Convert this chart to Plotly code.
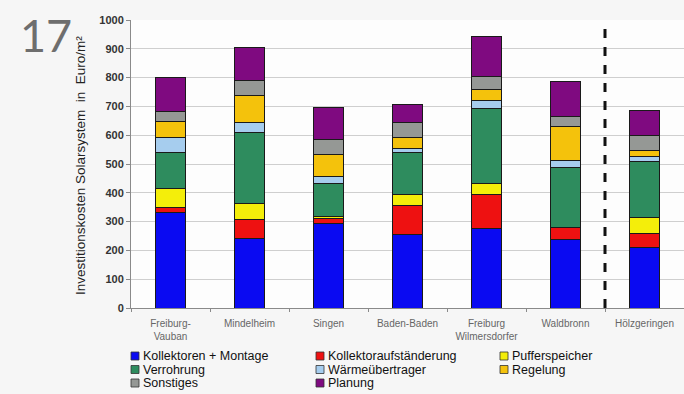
import plotly.graph_objects as go

# Standorte (Kategorien der x-Achse)
standorte = [
    "Freiburg-<br>Vauban",
    "Mindelheim",
    "Singen",
    "Baden-Baden",
    "Freiburg<br>Wilmersdorfer",
    "Waldbronn",
    "Hölzgeringen",
]

# Kostenanteile in Euro/m², von unten nach oben gestapelt
kollektoren_montage = [331, 240, 294, 254, 275, 237, 210]
kollektoraufstaenderung = [18, 66, 18, 102, 118, 44, 50]
pufferspeicher = [67, 58, 4, 39, 38, 0, 55]
verrohrung = [123, 245, 117, 144, 262, 207, 195]
waermeuebertrager = [53, 35, 23, 15, 28, 24, 15]
regelung = [57, 93, 77, 38, 38, 117, 21]
sonstiges = [32, 52, 52, 51, 44, 35, 54]
planung = [119, 116, 110, 65, 141, 121, 85]

serien_namen = [
    "Kollektoren + Montage",
    "Kollektoraufständerung",
    "Pufferspeicher",
    "Verrohrung",
    "Wärmeübertrager",
    "Regelung",
    "Sonstiges",
    "Planung",
]
serien_werte = [
    kollektoren_montage,
    kollektoraufstaenderung,
    pufferspeicher,
    verrohrung,
    waermeuebertrager,
    regelung,
    sonstiges,
    planung,
]
farben = [
    "#0a0af2",
    "#ee1111",
    "#f4ee0a",
    "#2e8c5e",
    "#a6cdee",
    "#f4c20c",
    "#959895",
    "#7f0a80",
]

y_ticks = list(range(0, 1001, 100))

fig = go.Figure()
for name, vals, col in zip(serien_namen, serien_werte, farben):
    fig.add_trace(
        go.Bar(
            x=standorte,
            y=vals,
            name=name,
            marker=dict(color=col, line=dict(color="#1a1a1a", width=1)),
            showlegend=False,
        )
    )

# Plot-Bereich in Pixeln
L, R, T, B = 131, 0, 20, 86
W, H = 684, 394
pw, ph = W - L - R, H - T - B


def px_x(px):
    return (px - L) / pw


def px_y(py):
    return (H - B - py) / ph


annotations = [
    dict(
        text="17", xref="paper", yref="paper",
        x=px_x(18), y=px_y(35), xanchor="left", yanchor="middle",
        showarrow=False,
        font=dict(family="Lato, Arial, sans-serif", size=45, color="#6e6e6e"),
    ),
    dict(
        text="Investitionskosten Solarsystem  in  Euro/m²",
        xref="paper", yref="paper", x=px_x(80), y=px_y(166),
        xanchor="center", yanchor="middle", textangle=-90, showarrow=False,
        font=dict(family="Arial, Liberation Sans, sans-serif", size=13.5, color="#222"),
    ),
]
shapes = [
    # Trennlinie vor dem letzten Standort
    dict(
        type="line", xref="x", yref="paper", x0=5.5, x1=5.5, y0=0, y1=1,
        line=dict(color="#111", width=3, dash="dash"),
    )
]

# Legende in drei Spalten
spalten_x = [131, 316, 500]
zeilen_y = [356, 369.5, 383]
for i, (name, col) in enumerate(zip(serien_namen, farben)):
    cx = spalten_x[i % 3]
    cy = zeilen_y[i // 3]
    shapes.append(
        dict(
            type="rect", xref="paper", yref="paper",
            x0=px_x(cx), x1=px_x(cx + 8), y0=px_y(cy + 4), y1=px_y(cy - 4),
            fillcolor=col, line=dict(color="#333", width=0.8),
        )
    )
    annotations.append(
        dict(
            text=name, xref="paper", yref="paper", x=px_x(cx + 10), y=px_y(cy),
            xanchor="left", yanchor="middle", showarrow=False,
            font=dict(family="Arial, Liberation Sans, sans-serif", size=12.5, color="#111"),
        )
    )

fig.update_layout(
    width=W,
    height=H,
    margin=dict(l=L, r=R, t=T, b=B, pad=0),
    barmode="stack",
    bargap=0.62,
    paper_bgcolor="#f6f6f6",
    plot_bgcolor="#fdfdfd",
    showlegend=False,
    annotations=annotations,
    shapes=shapes,
    xaxis=dict(
        range=[-0.5, 6.5],
        showgrid=False,
        showline=True,
        linecolor="#8a8a8a",
        ticks="outside",
        tickson="boundaries",
        ticklen=3,
        tickcolor="#8a8a8a",
        ticklabelstandoff=6,
        tickfont=dict(family="Arial, Liberation Sans, sans-serif", size=10, color="#666"),
    ),
    yaxis=dict(
        range=[0, 1000],
        tickvals=y_ticks,
        showgrid=True,
        gridcolor="#cfcfcf",
        gridwidth=1,
        showline=True,
        linecolor="#8a8a8a",
        ticks="outside",
        ticklen=4,
        tickcolor="#8a8a8a",
        tickfont=dict(family="Arial, Liberation Sans, sans-serif", size=11, color="#333", weight="bold"),
        zeroline=False,
    ),
)

fig.write_html("out.html")
